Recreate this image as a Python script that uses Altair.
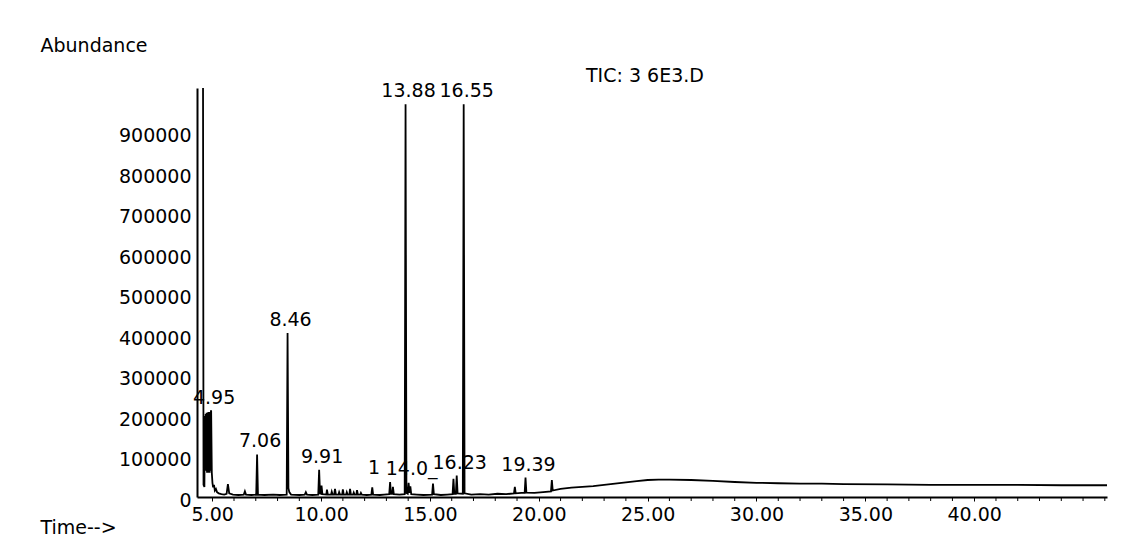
import altair as alt
import pandas as pd

# ---- chromatogram trace (retention time in min, abundance) ----
times = [
    4.55, 4.57, 4.60, 4.64, 4.66,
    4.68, 4.70, 4.72, 4.74, 4.76, 4.78, 4.80, 4.82, 4.84, 4.86, 4.88, 4.90, 4.92, 4.94, 4.95,
    4.98, 5.01, 5.04, 5.08, 5.12, 5.17, 5.22, 5.30, 5.42, 5.55, 5.66, 5.72, 5.78, 5.95,
    6.20, 6.45, 6.50, 6.55, 6.80, 7.02, 7.06, 7.10, 7.40, 7.80,
    8.10, 8.42, 8.46, 8.50, 8.54, 8.62, 9.00, 9.25, 9.30, 9.35, 9.60,
    9.87, 9.91, 9.95, 9.99, 10.02, 10.06,
    10.24, 10.27, 10.31, 10.46, 10.49, 10.53, 10.60, 10.64, 10.68,
    10.80, 10.83, 10.87, 10.97, 11.00, 11.04, 11.15, 11.18, 11.22,
    11.30, 11.33, 11.37, 11.47, 11.50, 11.54, 11.62, 11.65, 11.69,
    11.80, 11.83, 11.87, 12.10, 12.31, 12.35, 12.39, 12.70, 12.90,
    13.13, 13.17, 13.21, 13.27, 13.30, 13.34, 13.60,
    13.84, 13.88, 13.92, 13.98, 14.02, 14.06, 14.10, 14.14, 14.40, 14.70,
    15.10, 15.14, 15.18, 15.50, 15.80,
    16.04, 16.08, 16.12, 16.19, 16.23, 16.27, 16.51, 16.55, 16.59, 16.90,
    17.30, 17.70, 18.10, 18.50, 18.86, 18.90, 18.94, 19.20,
    19.35, 19.39, 19.43, 19.80, 20.20, 20.56, 20.60, 20.64,
    21.00, 21.50, 22.00, 22.50, 23.00, 23.50, 24.00, 24.50, 25.00, 25.50,
    26.00, 27.00, 28.00, 29.00, 30.00, 31.00, 32.00, 33.00, 34.00,
    36.00, 38.00, 40.00, 42.00, 44.00, 46.10,
]
abundance = [
    1300000, 1300000, 30000, 25000, 200000,
    70000, 205000, 65000, 208000, 60000, 208000, 60000, 210000, 60000, 210000, 60000, 210000, 65000, 212000, 212000,
    60000, 35000, 24000, 30000, 16000, 20000, 12000, 9000, 7000, 6000, 8000, 32000, 9000, 6000,
    5000, 6000, 14000, 6000, 5000, 6000, 105000, 6000, 5000, 6000,
    5000, 6000, 405000, 22000, 12000, 6000, 5000, 6000, 12000, 6000, 5000,
    6000, 67000, 9000, 8000, 28000, 7000,
    6000, 18000, 6000, 6000, 13000, 6000, 6000, 20000, 6000,
    6000, 12000, 6000, 6000, 19000, 6000, 6000, 12000, 6000,
    6000, 20000, 6000, 6000, 11000, 6000, 6000, 17000, 6000,
    6000, 10000, 6000, 5000, 6000, 24000, 6000, 5000, 6000,
    7000, 37000, 8000, 8000, 25000, 7000, 6000,
    7000, 970000, 10000, 8000, 35000, 10000, 26000, 7000, 6000, 5000,
    6000, 33000, 7000, 5000, 6000,
    7000, 45000, 8000, 8000, 53000, 9000, 8000, 970000, 9000, 6000,
    7000, 6000, 8000, 7000, 9000, 25000, 9000, 10000,
    10000, 48000, 11000, 10000, 12000, 14000, 42000, 16000,
    20000, 23000, 25000, 27000, 30000, 33000, 36000, 39000, 42000, 43000,
    43000, 42000, 40000, 37000, 35000, 34000, 33000, 33000, 32000,
    31000, 30000, 30000, 30000, 29000, 29000,
]

# ---- peak labels ----
label_rt = [4.95, 7.06, 8.46, 9.91, 14.02, 13.88, 16.55, 16.23, 19.39]
label_text = ["4.95", "7.06", "8.46", "9.91", "14.0_", "13.88", "16.55", "16.23", "19.39"]
label_abund = [212000, 105000, 405000, 67000, 38000, 970000, 970000, 53000, 48000]

# partially hidden label (only its first character is visible)
clipped_rt = [13.17]
clipped_text = ["1"]
clipped_abund = [40000]

x_major_ticks = [5, 10, 15, 20, 25, 30, 35, 40]
x_minor_ticks = [6, 7, 8, 9, 11, 12, 13, 14, 16, 17, 18, 19, 21, 22, 23, 24, 26, 27, 28, 29,
                 31, 32, 33, 34, 36, 37, 38, 39, 41, 42, 43, 44, 45, 46]
y_tick_values = [0, 100000, 200000, 300000, 400000, 500000, 600000, 700000, 800000, 900000]
tic_title = "TIC: 3 6E3.D"

FONT = "DejaVu Sans"
FS = 19
PLOT_H = 409

trace = pd.DataFrame({"t": times, "a": abundance})
labels = pd.DataFrame({"t": label_rt, "a": label_abund, "txt": label_text})
clipped = pd.DataFrame({"t": clipped_rt, "a": clipped_abund, "txt": clipped_text})
minor = pd.DataFrame({"t": x_minor_ticks})
tic = pd.DataFrame({"txt": [tic_title]})

xscale = alt.Scale(domain=[4.3, 46.1], nice=False, zero=False)
yscale = alt.Scale(domain=[0, 1010000], nice=False)

xaxis = alt.Axis(
    values=x_major_ticks, format=".2f",
    grid=False, domainColor="black", domainWidth=2, tickColor="black", tickSize=4, tickWidth=1,
    labelFont=FONT, labelFontSize=FS, labelColor="black", labelPadding=4,
    labelFlush=False, labelOverlap=False,
    title="Time-->", titleFont=FONT, titleFontSize=FS, titleFontWeight="normal", titleColor="black",
    titleX=-157, titleY=30, titleAlign="left", titleBaseline="middle", titleAngle=0,
)
yaxis = alt.Axis(
    values=y_tick_values, format="d",
    grid=False, domainColor="black", domainWidth=2, ticks=False,
    labelFont=FONT, labelFontSize=FS, labelColor="black", labelPadding=6, labelOffset=3,
    labelFlush=False, labelOverlap=False,
    title="Abundance", titleFont=FONT, titleFontSize=FS, titleFontWeight="normal", titleColor="black",
    titleX=-157, titleY=-43, titleAlign="left", titleBaseline="middle", titleAngle=0,
)

line = alt.Chart(trace).mark_line(color="black", strokeWidth=1.8, clip=True).encode(
    x=alt.X("t:Q", scale=xscale, axis=xaxis),
    y=alt.Y("a:Q", scale=yscale, axis=yaxis),
)

minor_ticks = alt.Chart(minor).mark_rule(color="black", strokeWidth=1).encode(
    x=alt.X("t:Q", scale=xscale),
    y=alt.value(PLOT_H),
    y2=alt.value(PLOT_H + 4),
)

peak_text = alt.Chart(labels).mark_text(
    font=FONT, fontSize=FS, color="black", align="center", baseline="bottom", dx=3, dy=-3
).encode(x=alt.X("t:Q", scale=xscale), y=alt.Y("a:Q", scale=yscale), text="txt:N")

clipped_label = alt.Chart(clipped).mark_text(
    font=FONT, fontSize=FS, color="black", align="center", baseline="bottom", dx=-16, dy=-3
).encode(x=alt.X("t:Q", scale=xscale), y=alt.Y("a:Q", scale=yscale), text="txt:N")

tic_text = alt.Chart(tic).mark_text(
    font=FONT, fontSize=FS, color="black", align="left", baseline="middle"
).encode(x=alt.value(389), y=alt.value(-12), text="txt:N")

chart = alt.layer(line, minor_ticks, peak_text, clipped_label, tic_text).properties(
    width=910, height=PLOT_H,
    autosize=alt.AutoSizeParams(type="none"),
    padding={"left": 189, "top": 80, "right": 10, "bottom": 40},
    background="white",
).configure_view(stroke=None)

chart.save("out.html", embed_options={"renderer": "svg", "actions": False})
